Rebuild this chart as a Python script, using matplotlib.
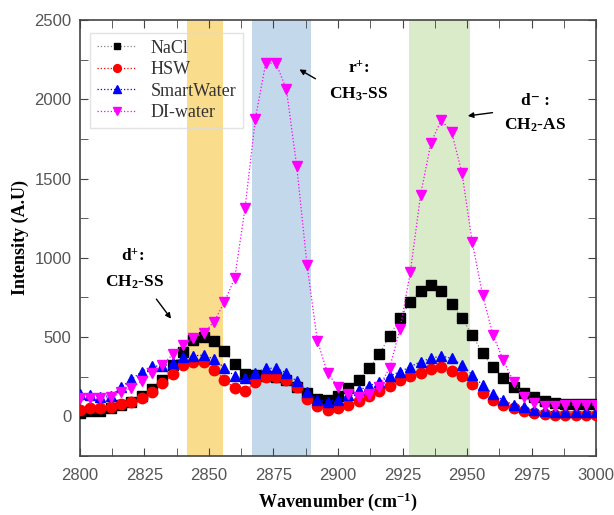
import numpy as np
import matplotlib
matplotlib.use("Agg")
import matplotlib.pyplot as plt
from matplotlib.ticker import MultipleLocator

# Wavenumber grid (cm-1)
wavenumber = np.arange(2800, 3001, 4)

nacl = [20, 32, 30, 49, 70, 91, 127, 169, 228, 323, 407, 481, 500, 477, 410, 330,
        265, 258, 252, 246, 226, 184, 145, 108, 101, 127, 175, 228, 302, 392, 506,
        618, 720, 791, 825, 787, 709, 618, 513, 397, 312, 238, 186, 148, 118, 97,
        84, 78, 76, 76, 76]
hsw = [38, 49, 49, 59, 76, 91, 112, 154, 207, 266, 323, 340, 344, 293, 230, 175,
       157, 214, 246, 247, 230, 185, 108, 66, 42, 49, 70, 97, 127, 160, 190, 228,
       253, 274, 297, 308, 287, 253, 203, 148, 105, 70, 49, 32, 20, 12, 10, 10,
       10, 10, 10]
smartwater = [143, 133, 122, 130, 182, 232, 281, 316, 316, 333, 371, 380, 386, 359,
              305, 253, 238, 274, 302, 302, 274, 220, 151, 105, 91, 105, 133, 165,
              190, 217, 253, 281, 312, 344, 365, 380, 365, 323, 260, 196, 139, 101,
              70, 55, 38, 32, 28, 28, 28, 28, 28]
diwater = [112, 112, 112, 118, 150, 180, 220, 272, 325, 390, 449, 495, 523, 597,
           720, 872, 1315, 1878, 2228, 2228, 2064, 1578, 954, 475, 270, 186, 139,
           122, 139, 186, 306, 549, 907, 1399, 1726, 1869, 1793, 1536, 1097, 766,
           513, 354, 217, 122, 80, 62, 63, 70, 70, 70, 70]

# highlighted bands
bands = [(2841.5, 2855.5, "#f9dc8c"), (2866.5, 2889.5, "#c4d8ec"), (2927.5, 2951, "#d9ebc9")]

serif = "Liberation Serif"
sans = "Liberation Sans"
plt.rcParams['mathtext.fontset'] = 'custom'
plt.rcParams['mathtext.rm'] = 'Liberation Serif:bold'
plt.rcParams['mathtext.it'] = 'Liberation Serif:bold'
plt.rcParams['mathtext.bf'] = 'Liberation Serif:bold'

fig = plt.figure(figsize=(6.14, 5.15), dpi=100)
ax = fig.add_axes([0.130, 0.115, 0.841, 0.846])

for lo, hi, c in bands:
    ax.axvspan(lo, hi, color=c, lw=0, zorder=0)

ax.plot(wavenumber, nacl, ':', color="#888888", lw=0.9, marker='s', mfc='black',
        mec='black', ms=6.5, label="NaCl", zorder=3)
ax.plot(wavenumber, hsw, ':', color="red", lw=0.9, marker='o', mfc='red',
        mec='red', ms=7.5, label="HSW", zorder=3)
ax.plot(wavenumber, smartwater, ':', color="blue", lw=0.9, marker='^', mfc='blue',
        mec='blue', ms=7.5, label="SmartWater", zorder=3)
ax.plot(wavenumber, diwater, ':', color="magenta", lw=0.9, marker='v', mfc='magenta',
        mec='magenta', ms=7.5, label="DI-water", zorder=3)

ax.set_xlim(2800, 3000)
ax.set_ylim(-250, 2500)
ax.xaxis.set_major_locator(MultipleLocator(25))
ax.xaxis.set_minor_locator(MultipleLocator(12.5))
ax.yaxis.set_major_locator(MultipleLocator(500))
ax.yaxis.set_minor_locator(MultipleLocator(250))
ax.tick_params(which='both', direction='in', top=True, right=True, color="#444444")
ax.tick_params(which='major', length=6, labelsize=12, labelcolor="#555555")
ax.tick_params(which='minor', length=6)
for lab in ax.get_xticklabels() + ax.get_yticklabels():
    lab.set_family(sans)
ax.tick_params(axis='x', pad=9)
ax.tick_params(axis='y', pad=6)

for s in ax.spines.values():
    s.set_color("#444444")
    s.set_linewidth(1.2)

ax.set_xlabel("Wavenumber (cm$^{-1}$)", family=serif, fontweight='bold', fontsize=13, labelpad=5)
ax.set_ylabel("Intensity (A.U)", family=serif, fontweight='bold', fontsize=13, labelpad=4)

leg = ax.legend(loc='upper left', prop={'family': serif, 'size': 13}, frameon=True,
                fancybox=False, facecolor='none', edgecolor="#dddddd",
                handlelength=2.2, borderpad=0.35, labelspacing=0.25, markerscale=0.75,
                bbox_to_anchor=(0.003, 0.99))
for t in leg.get_texts():
    t.set_color("#333333")

tkw = dict(family=[serif, "DejaVu Serif"], fontweight='bold', fontsize=12.5, ha='center', va='center')
ax.text(2820.5, 1006, "d$^{+}$:", **tkw)
ax.text(2821, 848, "CH$_2$-SS", **tkw)
ax.text(2908, 2190, "r$^{+}$:", **tkw)
ax.text(2908, 2032, "CH$_3$-SS", **tkw)
ax.text(2976.4, 1988, "d\u207b :", **tkw)
ax.text(2976.4, 1836, "CH$_2$-AS", **tkw)

akw = dict(arrowstyle='-|>', color='black', lw=1.0, mutation_scale=8)
ax.annotate("", xy=(2836, 601), xytext=(2829, 753), arrowprops=akw)
ax.annotate("", xy=(2884.1, 2197), xytext=(2892.2, 2121), arrowprops=akw)
ax.annotate("", xy=(2949.2, 1893), xytext=(2960.9, 1918), arrowprops=akw)

fig.savefig("out.png", dpi=100)
